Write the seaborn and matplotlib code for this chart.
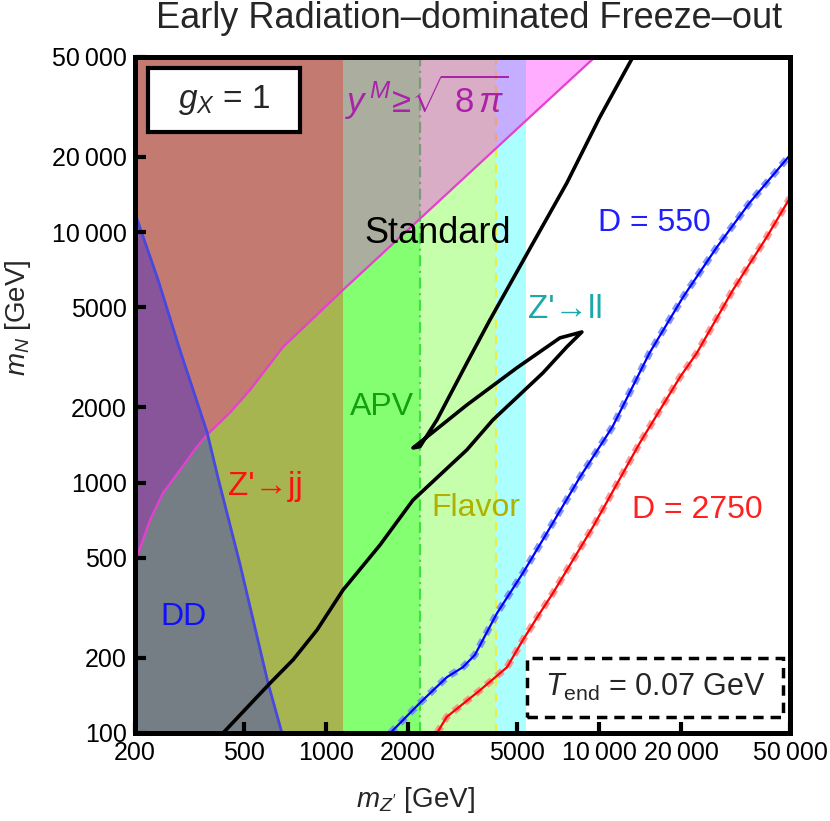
import matplotlib
matplotlib.use("Agg")
import matplotlib.pyplot as plt
from matplotlib.patches import Rectangle
from matplotlib.ticker import FixedLocator, FixedFormatter, NullLocator
import pandas as pd
import seaborn as sns

# vertical exclusion bands: m_Z' below the edge is excluded (widest first)
band_names = ["Z'->ll", "Flavor", "APV", "Z'->jj"]
band_edges = [5400, 4200, 2210, 1150]
band_colors = ["#00ffff", "#ffff00", "#00ff00", "#ff0000"]
band_alphas = [0.33, 0.33, 0.33, 0.29]

# perturbativity y^M >= sqrt(8 pi): excluded above this curve
pert_mz = [200, 203, 227, 253, 292, 337, 367, 445, 527, 697, 1154, 5580, 9660]
pert_mn = [470, 504, 708, 908, 1120, 1390, 1550, 1900, 2340, 3480, 5870, 28800, 50000]

# direct detection: excluded below this curve
dd_mz = [200, 243, 292, 367, 403, 485, 614, 690]
dd_mn = [11870, 6430, 3380, 1590, 1040, 470, 158, 100]

# "Standard" relic curve (folds back on itself)
std_mz = [420, 624, 758, 928, 1154, 1577, 2083, 3280, 4085, 6230, 7620, 8650,
          7190, 5000, 3280, 2466, 2083,
          2208, 2550, 3280, 3980, 5730, 7620, 10070, 13300]
std_mn = [100, 158, 196, 258, 372, 563, 851, 1350, 1778, 2740, 3480, 3990,
          3780, 2870, 2040, 1590, 1375,
          1390, 1780, 3000, 4450, 9040, 15700, 28800, 50000]

# dilution curves
d550_mz = [1720, 2210, 2770, 3170, 3510, 4230, 5260, 6440, 8510, 11200, 15300, 20300, 27000, 35600, 50000]
d550_mn = [100, 132, 167, 183, 205, 301, 435, 629, 1050, 1670, 3290, 5500, 8710, 13100, 20300]
d2750_mz = [2550, 2770, 3660, 4600, 5260, 6070, 6780, 9490, 14100, 19800, 22800, 30900, 41100, 50000]
d2750_mn = [100, 116, 148, 183, 235, 301, 362, 664, 1440, 2640, 3290, 5870, 9550, 13700]

x_ticks = [200, 500, 1000, 2000, 5000, 10000, 20000, 50000]
y_ticks = [100, 200, 500, 1000, 2000, 5000, 10000, 20000, 50000]


def fmt(v):
    # Mathematica style: only 5+ digit numbers get a thin-space group separator
    return f"{v:,}".replace(",", "\u2009") if v >= 10000 else str(v)


sns.set_theme(style="ticks")
plt.rcParams["font.family"] = ["Liberation Sans", "DejaVu Sans"]
plt.rcParams["mathtext.fontset"] = "custom"
plt.rcParams["mathtext.rm"] = "Liberation Sans"
plt.rcParams["mathtext.it"] = "Liberation Sans:italic"

fig = plt.figure(figsize=(8.3, 8.21), dpi=100)
ax = fig.add_axes([0.1627, 0.1072, 0.7891, 0.8234])
ax.set_xscale("log")
ax.set_yscale("log")
xlo, xhi, ylo, yhi = 200, 50000, 100, 50000

# ll, Flavor, APV under the perturbativity region; jj on top of it
for edge, c, a in zip(band_edges[:3], band_colors[:3], band_alphas[:3]):
    ax.axvspan(xlo, edge, color=c, alpha=a, lw=0, zorder=1)
ax.axvline(band_edges[2], color="#40e040", lw=1.6, ls=(0, (5, 2, 1, 2)), zorder=2)
ax.axvline(band_edges[1], color="#e8f040", lw=1.6, ls=(0, (4, 3)), zorder=2)

ax.fill_between(pert_mz, pert_mn, yhi, color="#ff00ff", alpha=0.32, lw=0, zorder=3)
ax.axvspan(xlo, band_edges[3], color=band_colors[3], alpha=band_alphas[3], lw=0, zorder=3.2)
ax.fill_between(dd_mz, ylo, dd_mn, color="#0000ff", alpha=0.3, lw=0, zorder=3.4)

sns.lineplot(x=pert_mz, y=pert_mn, color="#e640d0", lw=1.6, ax=ax, zorder=4)
sns.lineplot(x=dd_mz, y=dd_mn, color="#4848e0", lw=2.0, ax=ax, zorder=4)

df_std = pd.DataFrame({"mz": std_mz, "mn": std_mn})
sns.lineplot(data=df_std, x="mz", y="mn", sort=False, estimator=None,
             color="black", lw=2.6, ax=ax, zorder=5)

# thick light dashed trace behind a thin solid line
ax.plot(d550_mz, d550_mn, color="#6f86ff", lw=5.0, alpha=0.85,
        dashes=(1.1, 0.9), solid_capstyle="round", zorder=4.5)
sns.lineplot(x=d550_mz, y=d550_mn, color="#0000ff", lw=1.6, ax=ax, zorder=5)
ax.plot(d2750_mz, d2750_mn, color="#ff8080", lw=5.0, alpha=0.8,
        dashes=(1.1, 0.9), zorder=4.5)
sns.lineplot(x=d2750_mz, y=d2750_mn, color="#ff0000", lw=1.6, ax=ax, zorder=5)

ax.set_xlim(xlo, xhi)
ax.set_ylim(ylo, yhi)
ax.set_xlabel("")
ax.set_ylabel("")
ax.xaxis.set_major_locator(FixedLocator(x_ticks))
ax.xaxis.set_major_formatter(FixedFormatter([fmt(v) for v in x_ticks]))
ax.yaxis.set_major_locator(FixedLocator(y_ticks))
ax.yaxis.set_major_formatter(FixedFormatter([fmt(v) for v in y_ticks]))
ax.xaxis.set_minor_locator(NullLocator())
ax.yaxis.set_minor_locator(NullLocator())
ax.tick_params(direction="in", length=8, width=3, labelsize=18, color="black",
               labelcolor="black", pad=6)
ax.xaxis.set_zorder(11)
ax.yaxis.set_zorder(11)
for s in ax.spines.values():
    s.set_linewidth(3.6)
    s.set_color("black")
    s.set_zorder(10)

# region labels
ax.text(2330, 34600, r"$y^{\,M}\!\geq\!\sqrt{\ 8\,\pi}$", color="#aa22aa", fontsize=25,
        ha="center", va="center", zorder=6)
ax.text(2570, 9900, "Standard", color="black", fontsize=26, ha="center", va="center", zorder=6)
ax.text(7500, 4900, "Z'→ll", color="#1aa8a8", fontsize=24, ha="center", va="center", zorder=6)
ax.text(1600, 2000, "APV", color="#10a010", fontsize=23, ha="center", va="center", zorder=6)
ax.text(3540, 790, "Flavor", color="#b0b000", fontsize=23, ha="center", va="center", zorder=6)
ax.text(600, 960, "Z'→jj", color="#ff1010", fontsize=24, ha="center", va="center", zorder=6)
ax.text(300, 290, "DD", color="#1010ff", fontsize=23, ha="center", va="center", zorder=6)
ax.text(16000, 10900, "D = 550", color="#2020ff", fontsize=23, ha="center", va="center", zorder=6)
ax.text(22800, 780, "D = 2750", color="#ff2020", fontsize=23, ha="center", va="center", zorder=6)

ax.add_patch(Rectangle((0.02, 0.889), 0.232, 0.095, transform=ax.transAxes,
                       fc="white", ec="black", lw=3, zorder=7))
ax.text(0.136, 0.936, r"$g_X$ = 1", transform=ax.transAxes, fontsize=24,
        ha="center", va="center", zorder=8)
ax.add_patch(Rectangle((0.598, 0.024), 0.391, 0.087, transform=ax.transAxes,
                       fc="white", ec="black", lw=2.5, ls=(0, (3, 2)), zorder=7))
ax.text(0.794, 0.067, r"$T_{\mathrm{end}}$ = 0.07 GeV", transform=ax.transAxes,
        fontsize=22, ha="center", va="center", zorder=8)

fig.text(0.565, 0.978, "Early Radiation\u2013dominated Freeze\u2013out", fontsize=26,
         ha="center", va="center")
fig.text(0.501, 0.026, r"$m_{Z'}$ [GeV]", fontsize=20, ha="center", va="center")
fig.text(0.022, 0.613, r"$m_N$ [GeV]", fontsize=20, ha="center", va="center", rotation=90)

fig.savefig("out.png", dpi=100)
